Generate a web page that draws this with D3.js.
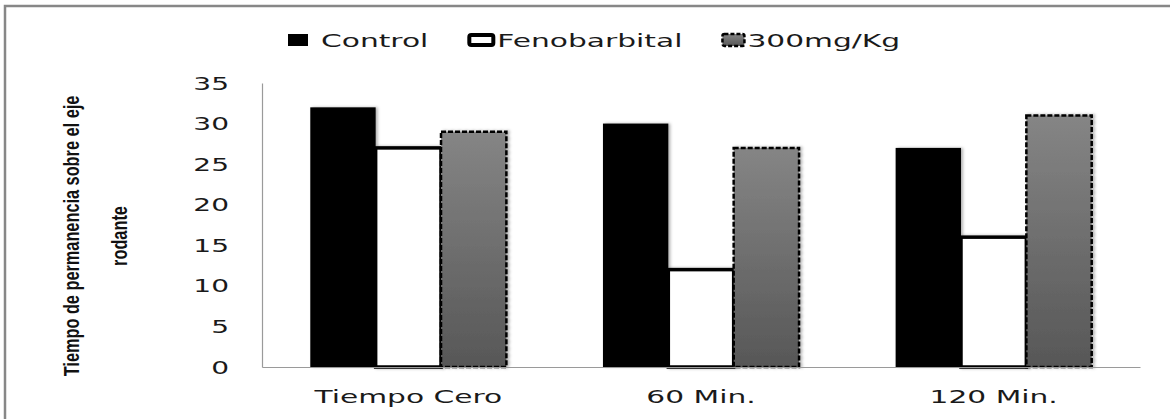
<!DOCTYPE html>
<html>
<head>
<meta charset="utf-8">
<script src="https://cdn.jsdelivr.net/npm/d3@7"></script>
<style>
    body { margin: 0; background: #fff; }
    svg { display: block; }
</style>
</head>
<body>
<div id="chart"></div>
<script>
// values
const categories = ['Tiempo Cero', '60 Min.', '120 Min.'];
const seriesNames = ['Control', 'Fenobarbital', '300mg/Kg'];
const control = [32, 30, 27];
const fenobarbital = [27, 12, 16];
const dose300 = [29, 27, 31];
const yTicks = [0, 5, 10, 15, 20, 25, 30, 35];
const yTitleLines = ['Tiempo de permanencia sobre el eje', 'rodante'];

const width = 1170;
const height = 419;
const stretch = 1.65; // the reference text is drawn wide
const font = '"DejaVu Sans", Verdana, sans-serif';

const seriesValues = [control, fenobarbital, dose300];
const rows = categories.map((c, i) => ({
    category: c,
    values: seriesNames.map((s, j) => ({ series: s, value: seriesValues[j][i] }))
}));

const svg = d3.select('#chart').append('svg')
    .attr('width', width)
    .attr('height', height);

const defs = svg.append('defs');
const grad = defs.append('linearGradient')
    .attr('id', 'grayGrad')
    .attr('x1', 0).attr('y1', 0).attr('x2', 0).attr('y2', 1);
grad.append('stop').attr('offset', '0%').attr('stop-color', '#858585');
grad.append('stop').attr('offset', '100%').attr('stop-color', '#575757');

const shadow = defs.append('filter')
    .attr('id', 'shadow')
    .attr('x', '-10%').attr('y', '-10%').attr('width', '130%').attr('height', '120%');
shadow.append('feDropShadow')
    .attr('dx', 2).attr('dy', 0).attr('stdDeviation', 1.5)
    .attr('flood-color', '#000').attr('flood-opacity', 0.3);

// outer frame, only top and left edges show in the crop
svg.append('rect')
    .attr('x', 5).attr('y', 6)
    .attr('width', 1300).attr('height', 600)
    .attr('fill', 'none')
    .attr('stroke', '#878787')
    .attr('stroke-width', 2.5);

const x0 = d3.scaleBand()
    .domain(categories)
    .range([262, 1140])
    .paddingInner(0.33)
    .paddingOuter(0.165);

const x1 = d3.scaleBand()
    .domain(seriesNames)
    .range([0, x0.bandwidth()]);

const y = d3.scaleLinear()
    .domain([0, 35])
    .range([367, 83]);

const fillOf = { 'Control': '#000', 'Fenobarbital': '#fff', '300mg/Kg': 'url(#grayGrad)' };

// bars
const groups = svg.append('g').selectAll('g')
    .data(rows)
    .join('g')
    .attr('transform', d => `translate(${x0(d.category)},0)`);

groups.selectAll('rect')
    .data(d => d.values)
    .join('rect')
    .attr('x', d => x1(d.series))
    .attr('y', d => y(d.value))
    .attr('width', x1.bandwidth())
    .attr('height', d => y(0) - y(d.value))
    .attr('fill', d => fillOf[d.series])
    .attr('stroke', d => d.series === 'Control' ? 'none' : '#000')
    .attr('stroke-width', d => d.series === 'Fenobarbital' ? 3.5 : 2.5)
    .attr('stroke-dasharray', d => d.series === '300mg/Kg' ? '5,2' : null)
    .attr('filter', 'url(#shadow)');

// axes
const yAxis = svg.append('g')
    .attr('transform', 'translate(262,0)')
    .call(d3.axisLeft(y).tickValues(yTicks).tickSize(0).tickSizeOuter(0));
yAxis.select('.domain').attr('stroke', '#9a9a9a').attr('stroke-width', 1.2);
yAxis.selectAll('text')
    .attr('x', -33 / stretch)
    .attr('dy', '0.36em')
    .attr('transform', `scale(${stretch},1)`)
    .attr('font-family', font)
    .attr('font-size', 17)
    .attr('fill', '#1a1a1a');

const xAxis = svg.append('g')
    .attr('transform', `translate(0,${y(0)})`)
    .call(d3.axisBottom(x0).tickSize(0).tickSizeOuter(0));
xAxis.select('.domain').attr('stroke', '#9a9a9a').attr('stroke-width', 1.2);
xAxis.selectAll('text')
    .attr('y', 36)
    .attr('dy', 0)
    .attr('transform', `scale(${stretch},1)`)
    .attr('font-family', font)
    .attr('font-size', 18)
    .attr('fill', '#1a1a1a');

// y title, two rotated lines, narrow glyphs stretched across
svg.append('g').selectAll('text')
    .data(yTitleLines)
    .join('text')
    .attr('transform', (d, i) => `translate(${79 + i * 48},236) rotate(-90) scale(0.96,1.3)`)
    .attr('text-anchor', 'middle')
    .attr('font-family', '"Liberation Sans", Arial, sans-serif')
    .attr('font-size', 17)
    .attr('font-weight', 'bold')
    .attr('fill', '#111')
    .text(d => d);

// legend
const legend = svg.append('g').attr('transform', 'translate(288,0)');
let lx = 0;
seriesNames.forEach(name => {
    const item = legend.append('g').attr('transform', `translate(${lx},0)`);
    if (name === 'Control') {
        item.append('rect').attr('x', 0).attr('y', 34).attr('width', 20).attr('height', 12)
            .attr('fill', '#000');
    } else if (name === 'Fenobarbital') {
        item.append('rect').attr('x', 2).attr('y', 35).attr('width', 24).attr('height', 10)
            .attr('rx', 2).attr('fill', '#fff').attr('stroke', '#000').attr('stroke-width', 4);
    } else {
        item.append('rect').attr('x', 1).attr('y', 34).attr('width', 22).attr('height', 12)
            .attr('rx', 2).attr('fill', 'url(#grayGrad)').attr('stroke', '#000')
            .attr('stroke-width', 2.5).attr('stroke-dasharray', '4,2');
    }
    const tx = name === 'Control' ? 33 : (name === 'Fenobarbital' ? 30 : 26);
    const t = item.append('text')
        .attr('transform', `translate(${tx},47) scale(${stretch},1)`)
        .attr('font-family', font)
        .attr('font-size', 18)
        .attr('fill', '#1a1a1a')
        .text(name);
    const w = t.node().getComputedTextLength() * stretch;
    lx += tx + w + 39;
});
</script>
</body>
</html>
